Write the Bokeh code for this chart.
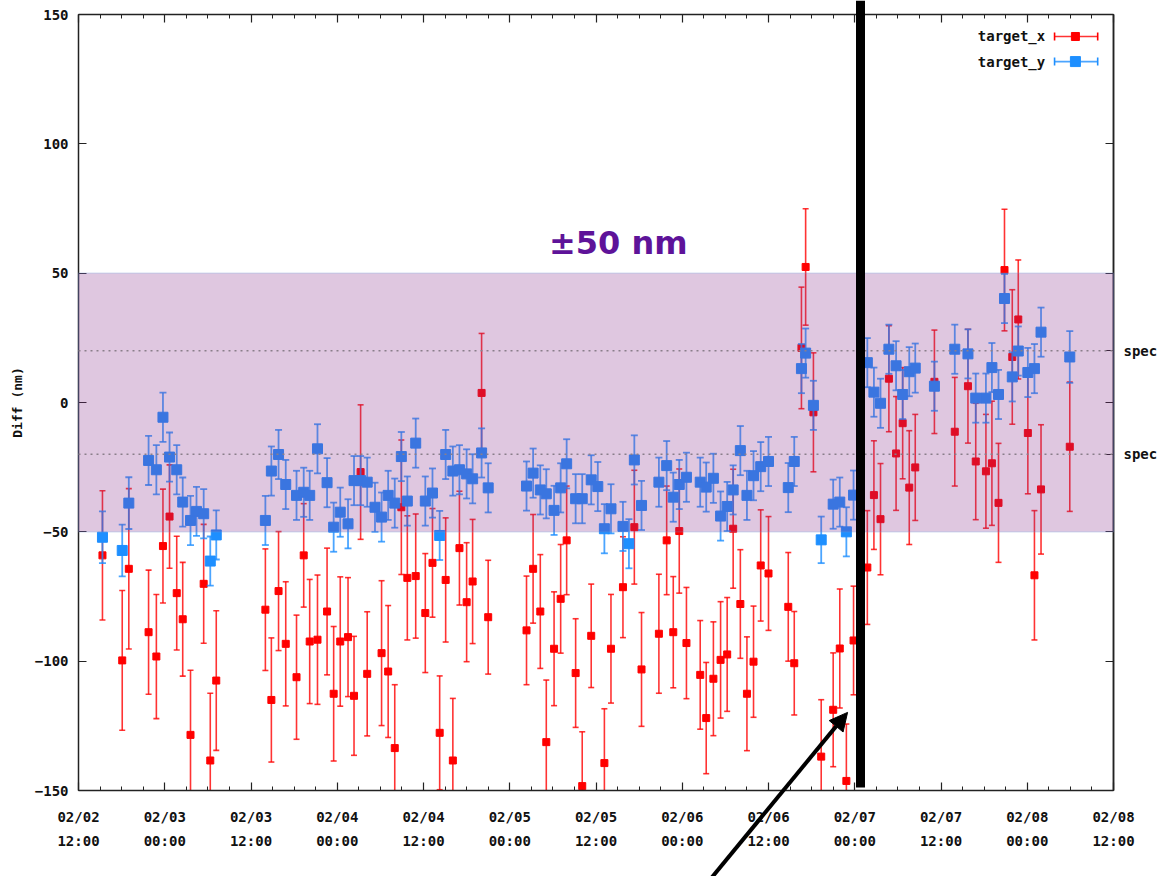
import numpy as np
import pandas as pd
from bokeh.plotting import figure
from bokeh.models import (Range1d, LinearAxis, FixedTicker, BoxAnnotation, CustomLabelingPolicy,
                          Label, Arrow, NormalHead, ColumnDataSource)
from bokeh.embed import file_html
from bokeh.resources import INLINE

# ---------------- data ----------------
start_time = "2015-02-02 12:00"

times = [
    "2015-02-02 15:20", "2015-02-02 18:05", "2015-02-02 19:00", "2015-02-02 21:45", "2015-02-02 22:50",
    "2015-02-02 23:45", "2015-02-03 00:40", "2015-02-03 01:40", "2015-02-03 02:30", "2015-02-03 03:35",
    "2015-02-03 04:25", "2015-02-03 05:25", "2015-02-03 06:20", "2015-02-03 07:10",
    "2015-02-03 14:00", "2015-02-03 14:50", "2015-02-03 15:50", "2015-02-03 16:50", "2015-02-03 18:20",
    "2015-02-03 19:20", "2015-02-03 20:10", "2015-02-03 21:15", "2015-02-03 22:35", "2015-02-03 23:30",
    "2015-02-04 00:25", "2015-02-04 01:30", "2015-02-04 02:20", "2015-02-04 03:15", "2015-02-04 04:10",
    "2015-02-04 05:15", "2015-02-04 06:10", "2015-02-04 07:05", "2015-02-04 08:00", "2015-02-04 08:55",
    "2015-02-04 09:45", "2015-02-04 10:55", "2015-02-04 12:15", "2015-02-04 13:15", "2015-02-04 14:15",
    "2015-02-04 15:05", "2015-02-04 16:05", "2015-02-04 17:00", "2015-02-04 18:00", "2015-02-04 18:50",
    "2015-02-04 20:05", "2015-02-04 21:00",
    "2015-02-05 02:20", "2015-02-05 03:15", "2015-02-05 04:15", "2015-02-05 05:05", "2015-02-05 06:10",
    "2015-02-05 07:05", "2015-02-05 07:55", "2015-02-05 09:10", "2015-02-05 10:05", "2015-02-05 11:20",
    "2015-02-05 12:15", "2015-02-05 13:10", "2015-02-05 14:05", "2015-02-05 15:45", "2015-02-05 16:35",
    "2015-02-05 17:20", "2015-02-05 18:20", "2015-02-05 20:45", "2015-02-05 21:50", "2015-02-05 22:45",
    "2015-02-05 23:35", "2015-02-06 00:35", "2015-02-06 02:30", "2015-02-06 03:20", "2015-02-06 04:20",
    "2015-02-06 05:20", "2015-02-06 06:15", "2015-02-06 07:05", "2015-02-06 08:05", "2015-02-06 09:00",
    "2015-02-06 09:55", "2015-02-06 10:55", "2015-02-06 12:00", "2015-02-06 14:45", "2015-02-06 15:35",
    "2015-02-06 16:35", "2015-02-06 17:10", "2015-02-06 18:15", "2015-02-06 19:20", "2015-02-06 21:00",
    "2015-02-06 21:55", "2015-02-06 22:50", "2015-02-06 23:50",
    "2015-02-07 01:45", "2015-02-07 02:40", "2015-02-07 03:35", "2015-02-07 04:45", "2015-02-07 05:45",
    "2015-02-07 06:40", "2015-02-07 07:35", "2015-02-07 08:25", "2015-02-07 11:05", "2015-02-07 13:55",
    "2015-02-07 15:45", "2015-02-07 16:50", "2015-02-07 18:15", "2015-02-07 19:05", "2015-02-07 20:00",
    "2015-02-07 20:50", "2015-02-07 21:55", "2015-02-07 22:45", "2015-02-08 00:05", "2015-02-08 01:00",
    "2015-02-08 01:55", "2015-02-08 05:55",
]

target_x = [
    -59.1, -99.7, -64.3, -88.8, -98.2, -55.5, -44.1, -73.7, -83.8, -128.5, None, -70.1, -138.4, -107.5,
    -80.1, -115.0, -72.9, -93.3, -106.2, -59.1, -92.4, -91.7, -80.8, -112.6, -92.4, -90.7, -113.4, -26.9,
    -104.9, None, -96.9, -104.0, -133.6, -40.5, -67.8, -67.1, -81.4, -62.0, -127.7, -68.6, -138.4, -56.3,
    -77.2, -69.2, 3.7, -83.0,
    -88.1, -64.3, -80.8, -131.3, -95.2, -75.9, -53.3, -104.6, -148.3, -90.2, None, -139.4, -95.2, -71.4,
    None, -48.2, -103.2, -89.4, -53.3, -88.8, -49.7, -93.0, -105.3, -122.0, -106.8, -99.5, -97.4, -48.8,
    -77.9, -112.6, -100.2, -63.0, -66.1, -79.0, -100.8, 21.1, 52.4, -3.8, -136.9, -118.8, -95.1, -146.3,
    -92.0,
    -63.8, -35.8, -45.1, 9.2, -19.7, -8.0, -32.9, -25.1, 8.0, -11.3, 6.3, -22.8, -26.6, -23.5, -38.8,
    51.2, 17.6, 32.1, -11.8, -66.8, -33.6, -17.1,
]
target_x_err = [
    25, 27, 31, 24, 24, 22, 20, 22, 22, 25, 22, 23, 26, 27,
    23.5, 24, 23, 24, 24, 20, 24, 25, 24.5, 26, 25, 23, 23, 26, 24, 24, 28, 25.5, 24.5, 26, 24, 24,
    23, 21, 22, 24, 24, 22, 23, 24, 23, 22,
    21, 21, 22, 24, 22, 21, 21, 21, 21, 20, 21, 21, 21, 19.5, 21, 22, 22, 23, 21, 21.5, 24, 21.5,
    21, 21.5, 22, 22.5, 22, 23, 21, 22, 21.5, 21.5, 22, 21, 20, 23.5, 22.5, 23, 22, 22, 23, 22, 21,
    22, 21, 21.5, 20.5, 22, 21.5, 22, 20.5, 20, 21, 22, 22.5, 22, 24, 23, 23.5, 26, 23, 23.5, 25, 25, 25,
]

target_y = [
    -52.1, -57.2, -38.9, -22.4, -26.0, -5.7, -21.1, -26.0, -38.5, -45.6, -42.1, -43.0, -61.3, -51.2,
    -45.6, -26.5, -20.1, -31.7, -35.9, -34.7, -35.9, -17.9, -31.0, -48.2, -42.4, -46.9, -30.2, -30.2,
    -30.8, -40.5, -44.3, -35.9, -38.9, -20.9, -38.1, -15.7, -38.1, -35.0, -51.4, -20.1, -26.5, -26.0,
    -27.6, -29.5, -19.5, -33.0,
    -32.3, -27.3, -33.8, -35.3, -41.7, -33.0, -23.7, -37.2, -37.2, -29.9, -32.5, -48.8, -41.1, -47.9,
    -54.6, -22.2, -39.8, -30.8, -24.4, -36.6, -31.7, -28.9, -30.8, -32.7, -29.3, -43.9, -40.2, -33.8,
    -18.6, -35.9, -28.3, -24.8, -22.8, -32.9, -22.8, 13.1, 19.1, -1.1, -53.1, -39.3, -38.5, -50.0,
    -35.8,
    15.4, 4.0, -0.3, 20.6, 14.2, 3.1, 11.9, 13.3, 6.3, 20.6, 18.8, 1.7, 1.7, 13.5, 3.1, 40.2, 9.9,
    19.9, 11.6, 13.1, 27.2, 17.6,
]
target_y_err = [
    10, 10, 10, 9.5, 9.5, 9.5, 9.5, 9.5, 9.5, 9.5, 9.5, 9.5, 9.5, 9.5,
    9.5, 9.5, 9.5, 9.5, 9.5, 9.5, 9.5, 9.5, 9.5, 9.5, 9.5, 9.5, 9.5, 9.5, 9.5, 9.5, 9.5, 9.5, 9.5,
    9.5, 9.5, 9.5, 9.5, 9.5, 9.5, 9.5, 9.5, 9.5, 9.5, 9.5, 9.5, 9.5,
    9.5, 9.5, 9.5, 9.5, 9.5, 9.5, 9.5, 9.5, 9.5, 9.5, 9.5, 9.5, 9.5, 9.5, 9.5, 9.5, 9.5, 9.5, 9.5,
    9.5, 9.5, 9.5, 9.5, 9.5, 9.5, 9.5, 9.5, 9.5, 9.5, 9.5, 9.5, 9.5, 9.5, 9.5, 9.5, 9.5, 9.5, 9.5,
    9, 9.5, 9.5, 9.5, 9.5,
    9.5, 9.5, 9.5, 9.5, 9.5, 9.5, 9.5, 9.5, 9.5, 9.5, 9.5, 9.5, 9.5, 9.5, 9.5, 9.5, 9.5, 9.5, 9.5,
    9.5, 9.5, 10,
]

x_tick_labels = ["02/02\n12:00", "02/03\n00:00", "02/03\n12:00", "02/04\n00:00", "02/04\n12:00",
                 "02/05\n00:00", "02/05\n12:00", "02/06\n00:00", "02/06\n12:00", "02/07\n00:00",
                 "02/07\n12:00", "02/08\n00:00", "02/08\n12:00"]
y_ticks = [-150, -100, -50, 0, 50, 100, 150]
spec_limits = [-20, 20]
spec_label = "spec"
band_limits = [-50, 50]
band_label = "±50 nm"
y_axis_title = "Diff (nm)"
series_names = ["target_x", "target_y"]

# ---------------- derived ----------------
hours = ((pd.to_datetime(pd.Series(times)) - pd.Timestamp(start_time)) / pd.Timedelta(hours=1)).to_numpy()
tx = np.array(target_x, dtype=float)
txe = np.array(target_x_err, dtype=float)
ty = np.array(target_y, dtype=float)
tye = np.array(target_y_err, dtype=float)

x_ticks = [12 * i for i in range(len(x_tick_labels))]
x_minor = list(range(0, x_ticks[-1] + 1, 3))
x_lo, x_hi = x_ticks[0], x_ticks[-1]
y_lo, y_hi = y_ticks[0], y_ticks[-1]


def bar_source(v, e):
    lo = v - e
    hi = v + e
    return ColumnDataSource(dict(
        h=hours, v=v,
        lo=np.maximum(lo, y_lo), hi=np.minimum(hi, y_hi),
        lo_cap=np.where(lo >= y_lo, lo, np.nan), hi_cap=np.where(hi <= y_hi, hi, np.nan)))


src_x = bar_source(tx, txe)
src_y = bar_source(ty, tye)

# page geometry (px): plot box 1035 x 776, placed 78 px from left, 14 px from top
W, H = 1159, 876
BOX_L, BOX_T, BOX_W, BOX_H = 78, 14, 1035, 776
PXH = BOX_W / (x_hi - x_lo)
PXV = BOX_H / (y_hi - y_lo)
x_view = Range1d(x_lo - BOX_L / PXH, x_hi + (W - BOX_L - BOX_W) / PXH)
y_view = Range1d(y_lo - (H - BOX_T - BOX_H) / PXV, y_hi + BOX_T / PXV)

FONT = "DejaVu Sans Mono"
RED = "#ff0000"
BLUE = "#1e8fff"

p = figure(frame_width=W, frame_height=H, x_range=x_view, y_range=y_view,
           output_backend="svg", toolbar_location=None,
           min_border_left=0, min_border_right=0, min_border_top=0, min_border_bottom=0,
           background_fill_color="white", border_fill_color="white")
p.grid.visible = False
p.outline_line_color = None


def no_labels():
    return CustomLabelingPolicy(code="for (const i of indices) { indices.unset(i) }\nreturn indices")


def style_axis(ax):
    ax.axis_line_color = "#222222"
    ax.axis_line_width = 1.5
    ax.major_tick_in = 8
    ax.major_tick_out = 0
    ax.minor_tick_in = 4
    ax.minor_tick_out = 0
    ax.major_tick_line_color = "#222222"
    ax.minor_tick_line_color = "#222222"
    ax.major_tick_line_width = 1.2
    ax.major_label_text_font = FONT
    ax.major_label_text_font_style = "bold"
    ax.major_label_text_font_size = "14px"
    ax.major_label_text_color = "#111111"


xa = p.xaxis[0]
xa.ticker = FixedTicker(ticks=x_ticks, minor_ticks=x_minor)
style_axis(xa)
xa.fixed_location = y_lo
xa.bounds = (x_lo, x_hi)
xa.major_label_overrides = {t: lbl for t, lbl in zip(x_ticks, x_tick_labels)}
xa.major_label_text_line_height = 1.5
xa.major_label_standoff = 18

top = LinearAxis(ticker=FixedTicker(ticks=x_ticks, minor_ticks=x_minor))
style_axis(top)
top.fixed_location = y_hi
top.bounds = (x_lo, x_hi)
top.major_label_policy = no_labels()
p.add_layout(top, "above")

ya = p.yaxis[0]
ya.ticker = FixedTicker(ticks=y_ticks, minor_ticks=[])
style_axis(ya)
ya.fixed_location = x_lo
ya.bounds = (y_lo, y_hi)
ya.major_label_standoff = 10

# right border: plain mirrored ticks, plus the two "spec" ticks
ra = LinearAxis(ticker=FixedTicker(ticks=y_ticks, minor_ticks=[]))
style_axis(ra)
ra.fixed_location = x_hi
ra.bounds = (y_lo, y_hi)
ra.major_label_policy = no_labels()
p.add_layout(ra, "right")

rs = LinearAxis(ticker=FixedTicker(ticks=spec_limits, minor_ticks=[]))
style_axis(rs)
rs.fixed_location = x_hi
rs.bounds = (y_lo, y_hi)
rs.major_label_overrides = {t: spec_label for t in spec_limits}
rs.major_label_standoff = 10
p.add_layout(rs, "right")

# y axis title (rotated), centred on the value axis
p.add_layout(Label(x=x_lo - 61 / PXH, y=(y_lo + y_hi) / 2, text=y_axis_title, angle=np.pi / 2,
                   text_align="center", text_baseline="middle", text_font=FONT,
                   text_font_style="bold", text_font_size="13px", text_color="#111111"))

# ---------------- series ----------------
for src, col, msize, lw, cap in ((src_x, RED, 7, 1.6, 6), (src_y, BLUE, 10, 1.8, 7)):
    p.segment(x0="h", y0="lo", x1="h", y1="hi", source=src, line_color=col, line_width=lw, line_alpha=0.8)
    p.scatter(x="h", y="lo_cap", source=src, marker="dash", size=cap, line_color=col, line_width=lw, line_alpha=0.8)
    p.scatter(x="h", y="hi_cap", source=src, marker="dash", size=cap, line_color=col, line_width=lw, line_alpha=0.8)
    p.scatter(x="h", y="v", source=src, marker="square", size=msize, fill_color=col, line_color=col)

# ---------------- annotations ----------------
band = BoxAnnotation(left=x_lo, right=x_hi, bottom=band_limits[0], top=band_limits[1],
                     fill_color="#87318b", fill_alpha=0.27, line_color="#6f8fcf", line_width=1.2)
p.add_layout(band)
for s in spec_limits:
    p.add_layout(Arrow(end=None, x_start=x_lo, y_start=s, x_end=x_hi, y_end=s,
                       line_color="#8a7f8a", line_dash="2 4", line_width=1.5))

p.add_layout(Label(x=75.1, y=61.5, text=band_label, text_align="center", text_baseline="alphabetic",
                   text_font="DejaVu Sans", text_font_style="bold", text_font_size="32px",
                   text_color="#5e1399"))

# legend (gnuplot style: text left, key right)
leg_rows = [141.5, 131.8]
for name, row, col, msize in zip(series_names, leg_rows, (RED, BLUE), (8, 10)):
    p.add_layout(Label(x=134.5, y=row, text=name, text_align="right", text_baseline="middle",
                       text_font=FONT, text_font_style="bold", text_font_size="14px",
                       text_color="#111111"))
    ks = ColumnDataSource(dict(x0=[135.8], x1=[141.8], xc=[138.7], y=[row]))
    p.segment(x0="x0", y0="y", x1="x1", y1="y", source=ks, line_color=col, line_width=1.6, line_alpha=0.8)
    p.scatter(x="x0", y="y", source=ks, marker="dash", angle=np.pi / 2, size=8, line_color=col, line_width=1.6)
    p.scatter(x="x1", y="y", source=ks, marker="dash", angle=np.pi / 2, size=8, line_color=col, line_width=1.6)
    p.scatter(x="xc", y="y", source=ks, marker="square", size=msize, fill_color=col, line_color=col)

# thick vertical marker line and arrow
p.add_layout(Arrow(end=None, x_start=108.8, y_start=y_view.end, x_end=108.8, y_end=-148.8,
                   line_color="black", line_width=9))
p.add_layout(Arrow(end=NormalHead(size=18, fill_color="black", line_color="black", line_width=1),
                   x_start=87.2, y_start=-186.7, x_end=107.0, y_end=-119.8,
                   line_color="black", line_width=4))

open("out.html", "w").write(file_html(p, INLINE))
